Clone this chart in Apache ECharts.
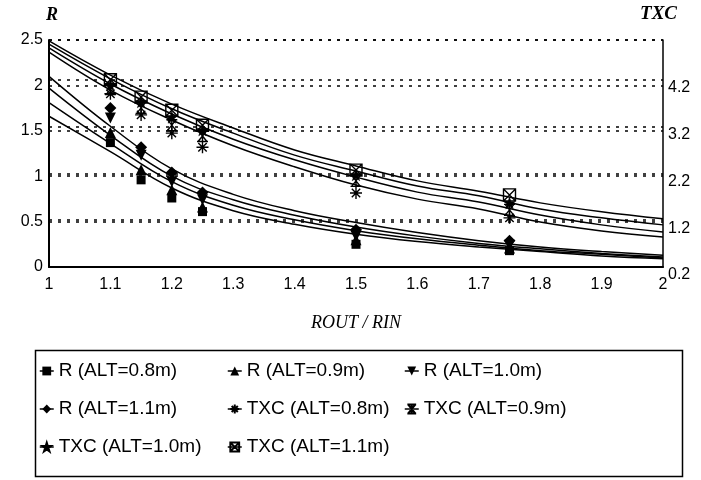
<!DOCTYPE html>
<html><head><meta charset="utf-8">
<script src="https://cdn.jsdelivr.net/npm/echarts@6/dist/echarts.min.js"></script>
<style>html,body{margin:0;padding:0;background:#fff}#c{width:701px;height:480px}</style>
</head><body><div id="c"></div>
<script>
// ---- data ----
const xMarks = [1.1, 1.15, 1.2, 1.25, 1.5, 1.75];
const xCurve = [1, 1.1, 1.2, 1.3, 1.4, 1.5, 1.6, 1.7, 1.8, 1.9, 2];
const xTicks = ['1','1.1','1.2','1.3','1.4','1.5','1.6','1.7','1.8','1.9','2'];

// measured points (R on left axis, TXC on right axis)
const rAlt08 = [1.37, 0.96, 0.76, 0.61, 0.25, 0.18];
const rAlt09 = [1.48, 1.07, 0.85, 0.66, 0.30, 0.21];
const rAlt10 = [1.64, 1.23, 0.94, 0.74, 0.34, 0.24];
const rAlt11 = [1.75, 1.32, 1.04, 0.82, 0.41, 0.29];
const txcAlt08 = [3.90, 3.45, 3.06, 2.76, 1.78, 1.25];
const txcAlt09 = [4.00, 3.60, 3.23, 3.00, 2.04, 1.42];
const txcAlt10 = [4.09, 3.73, 3.40, 3.13, 2.17, 1.57];
const txcAlt11 = [4.20, 3.83, 3.55, 3.23, 2.27, 1.74];

// fitted curves read at xCurve
const rFit08 = [1.66, 1.27, 0.87, 0.62, 0.47, 0.36, 0.28, 0.22, 0.17, 0.12, 0.09];
const rFit09 = [1.81, 1.36, 0.94, 0.68, 0.52, 0.40, 0.31, 0.24, 0.18, 0.14, 0.10];
const rFit10 = [1.97, 1.45, 1.00, 0.74, 0.57, 0.44, 0.34, 0.26, 0.20, 0.15, 0.11];
const rFit11 = [2.10, 1.55, 1.08, 0.80, 0.62, 0.49, 0.38, 0.29, 0.22, 0.17, 0.13];
const txcFit08 = [4.79, 3.98, 3.34, 2.79, 2.34, 1.95, 1.65, 1.44, 1.16, 0.97, 0.84];
const txcFit09 = [4.88, 4.11, 3.47, 2.93, 2.49, 2.12, 1.80, 1.59, 1.31, 1.10, 0.95];
const txcFit10 = [4.96, 4.22, 3.58, 3.06, 2.59, 2.25, 1.93, 1.72, 1.44, 1.25, 1.10];
const txcFit11 = [5.03, 4.30, 3.68, 3.17, 2.70, 2.36, 2.04, 1.82, 1.57, 1.38, 1.23];

const names = ['R (ALT=0.8m)','R (ALT=0.9m)','R (ALT=1.0m)','R (ALT=1.1m)',
               'TXC (ALT=0.8m)','TXC (ALT=0.9m)','TXC (ALT=1.0m)','TXC (ALT=1.1m)'];

// ---- symbols ----
const symAsterisk = 'path://M5,0L5,10M0,5L10,5M1.5,1.5L8.5,8.5M8.5,1.5L1.5,8.5';
const symHourglass = 'path://M0,0L10,0M0,10L10,10M1,0L9,10M9,0L1,10M5,0L5,10';
const symStar = 'path://M5,0L6.2,3.6L10,3.6L6.9,5.9L8.1,9.5L5,7.3L1.9,9.5L3.1,5.9L0,3.6L3.8,3.6Z';
const symBoxX = 'path://M0,0L10,0L10,10L0,10ZM0,0L10,10M10,0L0,10';
const symTriDown = 'path://M0,0L10,0L5,9Z';

const FILL = {color:'#000', borderColor:'#000', borderWidth:0};
const STROKE = {color:'rgba(0,0,0,0)', borderColor:'#000', borderWidth:1.4};

const markDefs = [
  [rAlt08, 0, 'rect', 9, FILL],
  [rAlt09, 0, 'triangle', 11, FILL],
  [rAlt10, 0, symTriDown, 11, FILL],
  [rAlt11, 0, 'diamond', 12, FILL],
  [txcAlt08, 1, symAsterisk, 12, STROKE],
  [txcAlt09, 1, symHourglass, 11, STROKE],
  [txcAlt10, 1, symStar, 12, {color:'#000', borderColor:'#000', borderWidth:0.5}],
  [txcAlt11, 1, symBoxX, 12, STROKE]
];
const fitDefs = [
  [rFit08,0],[rFit09,0],[rFit10,0],[rFit11,0],
  [txcFit08,1],[txcFit09,1],[txcFit10,1],[txcFit11,1]
];

const series = [];
fitDefs.forEach((d,i)=>{
  series.push({
    name: 'fit ' + names[i], type:'line', yAxisIndex:d[1],
    data: xCurve.map((x,j)=>[x, d[0][j]]),
    smooth: 0.4, showSymbol:false, symbol:'none',
    lineStyle:{color:'#000', width:1.5}, z:2, silent:true
  });
});
markDefs.forEach((d,i)=>{
  series.push({
    name: names[i], type:'line', yAxisIndex:d[1],
    data: xMarks.map((x,j)=>[x, d[0][j]]),
    symbol:d[2], symbolSize:d[3], showAllSymbol:true,
    itemStyle:d[4], color:'#000',
    lineStyle:{color:'#000', width:0, opacity:0}, z:5, silent:true
  });
});

const splitStyle = {show:true, lineStyle:{color:'#000', width:1.6, type:[3,6]}};
const labelFont = {color:'#000', fontSize:16, fontFamily:'Liberation Sans, Arial, sans-serif'};
const legendCommon = {
  orient:'vertical', itemWidth:14, itemHeight:11, itemGap:18, padding:0,
  textStyle:{color:'#000', fontSize:19, fontFamily:'Liberation Sans, Arial, sans-serif', lineHeight:20},
  lineStyle:{color:'#000', width:1.5, opacity:1},
  selectedMode:false
};

const option = {
  animation:false,
  backgroundColor:'#fff',
  grid:{left:49, right:38, top:40, bottom:213},
  xAxis:{
    type:'value', min:1, max:2, interval:0.1,
    name:'ROUT / RIN', nameLocation:'middle', nameGap:47,
    nameTextStyle:{color:'#000', fontSize:18, fontStyle:'italic', fontFamily:'Liberation Serif, serif'},
    axisLine:{show:true, onZero:false, lineStyle:{color:'#000', width:2}},
    axisTick:{show:false},
    axisLabel:Object.assign({margin:10, formatter:(v)=>{const i=Math.round((v-1)*10); return xTicks[i]||'';}}, labelFont),
    splitLine:{show:false}
  },
  yAxis:[{
    type:'value', min:0, max:2.5, interval:0.5, position:'left',
    name:'R', nameLocation:'end', nameGap:16,
    nameTextStyle:{color:'#000', fontSize:18, fontStyle:'italic', fontWeight:'bold', fontFamily:'Liberation Serif, serif', align:'center', padding:[0,0,0,6]},
    axisLine:{show:true, lineStyle:{color:'#000', width:2}},
    axisTick:{show:false},
    axisLabel:Object.assign({margin:6}, labelFont),
    splitLine:splitStyle
  },{
    type:'value', min:0.2, max:5.05, interval:1, position:'right',
    name:'TXC', nameLocation:'end', nameGap:16,
    nameTextStyle:{color:'#000', fontSize:19, fontStyle:'italic', fontWeight:'bold', fontFamily:'Liberation Serif, serif', align:'right', padding:[0,-14,0,0]},
    axisLine:{show:true, lineStyle:{color:'#000', width:1.5}},
    axisTick:{show:false},
    axisLabel:Object.assign({margin:5, verticalAlign:'top', formatter:(v)=> v>4.5 ? '' : v.toFixed(1)}, labelFont),
    splitLine:splitStyle
  }],
  legend:[
    Object.assign({left:39, top:361, data:[names[0], names[3], names[6]]}, legendCommon),
    Object.assign({left:227, top:361, data:[names[1], names[4], names[7]]}, legendCommon),
    Object.assign({left:404, top:361, data:[names[2], names[5]]}, legendCommon)
  ],
  graphic:[{
    type:'rect', left:33, top:348, z:-1,
    shape:{width:647, height:126},
    style:{fill:'none', stroke:'#000', lineWidth:1.5}
  }],
  series:series
};
const chart = echarts.init(document.getElementById('c'), null, {renderer:'canvas'});
chart.setOption(option);
</script></body></html>
